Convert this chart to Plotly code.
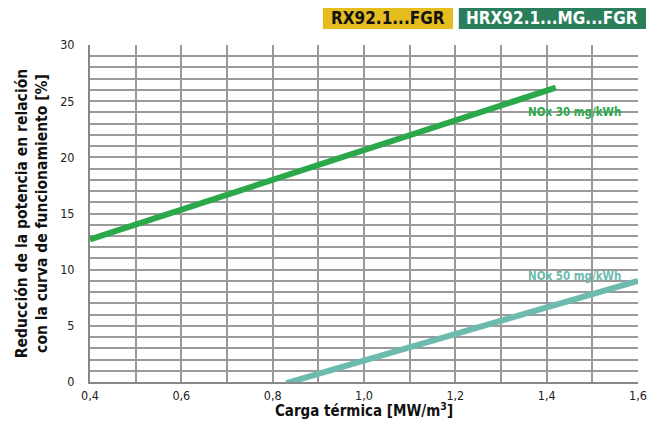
import plotly.graph_objects as go

# Data
nox30_x = [0.4, 1.42]
nox30_y = [12.7, 26.2]
nox50_x = [0.83, 1.6]
nox50_y = [-0.1, 9.0]
x_ticks = [0.4, 0.6, 0.8, 1.0, 1.2, 1.4, 1.6]
y_ticks = [0, 5, 10, 15, 20, 25, 30]
label30 = "NOx 30 mg/kWh"
label50 = "NOx 50 mg/kWh"
badge1 = "RX92.1...FGR"
badge2 = "HRX92.1...MG...FGR"

FONT = "'DejaVu Sans Condensed', 'Liberation Sans Narrow', Roboto, Arial"

fig = go.Figure()
fig.add_trace(go.Scatter(x=nox30_x, y=nox30_y, mode="lines",
                         line=dict(color="#2BA84A", width=6), showlegend=False, cliponaxis=False))
fig.add_trace(go.Scatter(x=nox50_x, y=nox50_y, mode="lines",
                         line=dict(color="#6DBBAE", width=6), showlegend=False, cliponaxis=False))

fig.add_annotation(x=1.46, y=24.0, text=f"<b>{label30}</b>", showarrow=False,
                   font=dict(color="#2BA84A", size=11.5, family=FONT))
fig.add_annotation(x=1.46, y=9.4, text=f"<b>{label50}</b>", showarrow=False,
                   font=dict(color="#6DBBAE", size=11.5, family=FONT))

# badges
fig.add_shape(type="rect", xref="paper", yref="paper", x0=0.425, x1=0.6624, y0=1.0475, y1=1.1128,
              fillcolor="#E6BD1F", line=dict(width=0))
fig.add_shape(type="rect", xref="paper", yref="paper", x0=0.673, x1=1.0146, y0=1.0475, y1=1.1128,
              fillcolor="#2A7E5B", line=dict(width=0))
fig.add_annotation(xref="paper", yref="paper", x=(0.425 + 0.6624) / 2, y=1.080, xanchor="center", yanchor="middle",
                   text=f"<b>{badge1}</b>", showarrow=False,
                   font=dict(color="#111111", size=17, family=FONT))
fig.add_annotation(xref="paper", yref="paper", x=(0.673 + 1.0146) / 2, y=1.080, xanchor="center", yanchor="middle",
                   text=f"<b>{badge2}</b>", showarrow=False,
                   font=dict(color="#FFFFFF", size=17, family=FONT))

fig.update_layout(
    width=648, height=412,
    margin=dict(l=82, r=18, t=37, b=38),
    paper_bgcolor="white", plot_bgcolor="white",
    separators=",.",
    font=dict(family=FONT, size=12.5, color="#222222"),
    xaxis=dict(range=[0.4, 1.6], tickvals=x_ticks, tickformat=".1f", automargin=False,
               showgrid=True, gridcolor="#9A9A9A", gridwidth=1.5,
               minor=dict(dtick=0.1, showgrid=True, gridcolor="#9A9A9A", gridwidth=1.5),
               showline=True, linecolor="#888888", linewidth=2, zeroline=False,
               ticks="", ticklabelstandoff=1,
               title=dict(text="<b>Carga térmica [MW/m<sup>3</sup>]</b>", font=dict(size=15, color="#111111"),
                          standoff=5)),
    yaxis=dict(range=[0, 30], tickvals=y_ticks, automargin=False,
               showgrid=True, gridcolor="#9A9A9A", gridwidth=1.5,
               minor=dict(dtick=1, showgrid=True, gridcolor="#9A9A9A", gridwidth=1.5),
               showline=True, linecolor="#888888", linewidth=2, zeroline=False,
               ticks="", ticklabelstandoff=11,
               title=dict(text="<b>Reducción de la potencia en relación<br>con la curva de funcionamiento [%]</b>",
                          font=dict(size=15.5, color="#111111"), standoff=9)),
)

fig.write_html("out.html")
